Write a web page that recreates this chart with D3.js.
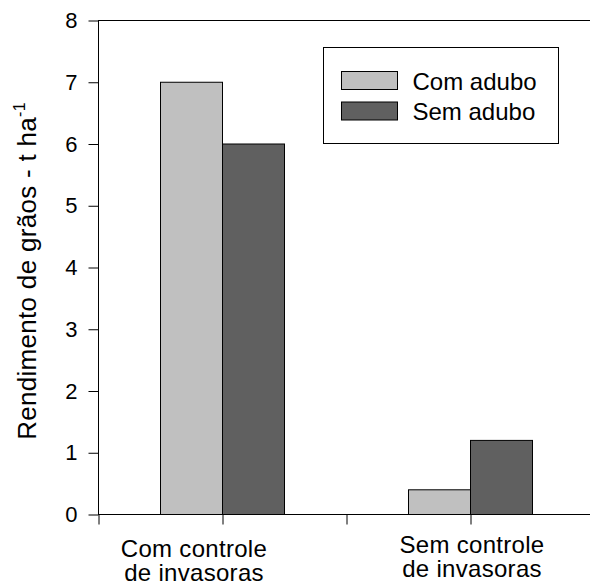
<!DOCTYPE html>
<html>
<head>
<meta charset="utf-8">
<script src="https://cdn.jsdelivr.net/npm/d3@7"></script>
<style>
  html, body { margin: 0; padding: 0; background: #fff; }
  svg { display: block; font-family: "Liberation Sans", Arial, sans-serif; }
</style>
</head>
<body>
<svg id="chart" width="590" height="585"></svg>
<script>
// ---- data ----
const categories = ["Com controle|de invasoras", "Sem controle|de invasoras"];
const seriesNames = ["Com adubo", "Sem adubo"];
const comAdubo = [7.0, 0.4];
const semAdubo = [6.0, 1.2];
const yTicks = [0, 1, 2, 3, 4, 5, 6, 7, 8];
const yTitle = "Rendimento de grãos - t ha";
const yTitleSup = "-1";

// ---- layout ----
const svg = d3.select("#chart");
const pLeft = 98, pRight = 594, pTop = 20.5, pBottom = 514.5;
const colors = ["#c0c0c0", "#606060"];
const seriesValues = [comAdubo, semAdubo];

const x = d3.scaleBand().domain(categories).range([pLeft, pRight]).padding(0);
const bw = x.bandwidth();
const xSub = d3.scaleBand().domain(seriesNames).range([bw / 4, bw * 3 / 4]).padding(0);
const y = d3.scaleLinear().domain([0, 8]).range([pBottom, pTop]);

// frame
svg.append("rect")
  .attr("x", pLeft + 0.5).attr("y", pTop)
  .attr("width", pRight - pLeft).attr("height", pBottom - pTop)
  .attr("fill", "none").attr("stroke", "#000").attr("stroke-width", 1);

// bars
const rows = categories.map((c, i) => seriesNames.map((s, j) => ({cat: c, s, j, v: seriesValues[j][i]})));
svg.append("g").selectAll("g").data(rows).join("g")
  .attr("transform", d => `translate(${x(d[0].cat)},0)`)
  .selectAll("rect").data(d => d).join("rect")
  .attr("x", d => xSub(d.s) + 0.5)
  .attr("y", d => y(d.v))
  .attr("width", xSub.bandwidth())
  .attr("height", d => y(0) - y(d.v))
  .attr("fill", d => colors[d.j])
  .attr("stroke", "#000").attr("stroke-width", 1);

// y axis
const yAxis = svg.append("g").attr("transform", `translate(${pLeft + 0.5},0)`)
  .call(d3.axisLeft(y).tickValues(yTicks).tickSize(10).tickPadding(11).tickFormat(d3.format("d")));
yAxis.select(".domain").remove();
yAxis.selectAll("line").attr("stroke", "#000");
yAxis.selectAll("text").attr("font-size", 22).attr("fill", "#000")
  .attr("font-family", "Liberation Sans, Arial, sans-serif");

// x axis ticks at band edges and centres
const xt = d3.scaleLinear().domain([0, categories.length]).range([pLeft, pRight]);
const xTickVals = d3.range(0, categories.length + 0.01, 0.5);
const xAxis = svg.append("g").attr("transform", `translate(0.5,${pBottom})`)
  .call(d3.axisBottom(xt).tickValues(xTickVals).tickSize(10).tickFormat(""));
xAxis.select(".domain").remove();
xAxis.selectAll("line").attr("stroke", "#000");

// category labels (one text per line)
const labShift = [[-28, 0], [2, -4]];
const lines = [];
categories.forEach((c, i) => c.split("|").forEach((s, k) => lines.push({c, i, k, s})));
svg.append("g").selectAll("text").data(lines).join("text")
  .attr("text-anchor", "middle")
  .attr("font-size", 24)
  .attr("letter-spacing", 0.3)
  .attr("fill", "#000")
  .attr("x", d => x(d.c) + bw / 2 + labShift[d.i][0])
  .attr("y", d => 557 + labShift[d.i][1] + d.k * 24)
  .text(d => d.s);

// y title
const t = svg.append("text")
  .attr("transform", "translate(36,271) rotate(-90)")
  .attr("text-anchor", "middle")
  .attr("font-size", 26)
  .attr("letter-spacing", 0.3)
  .attr("fill", "#000");
t.append("tspan").text(yTitle);
t.append("tspan").attr("font-size", 16).attr("dy", -11).text(yTitleSup);

// legend
const lg = svg.append("g");
lg.append("rect").attr("x", 323.5).attr("y", 47.5).attr("width", 235).attr("height", 96)
  .attr("fill", "#fff").attr("stroke", "#000");
const li = lg.selectAll("g.item").data(seriesNames).join("g").attr("class", "item")
  .attr("transform", (d, i) => `translate(341.5,${71.5 + i * 30.5})`);
li.append("rect").attr("width", 56).attr("height", 18)
  .attr("fill", (d, i) => colors[i]).attr("stroke", "#000");
li.append("text").attr("x", 71).attr("y", 18).attr("font-size", 24).attr("fill", "#000").text(d => d);
</script>
</body>
</html>
